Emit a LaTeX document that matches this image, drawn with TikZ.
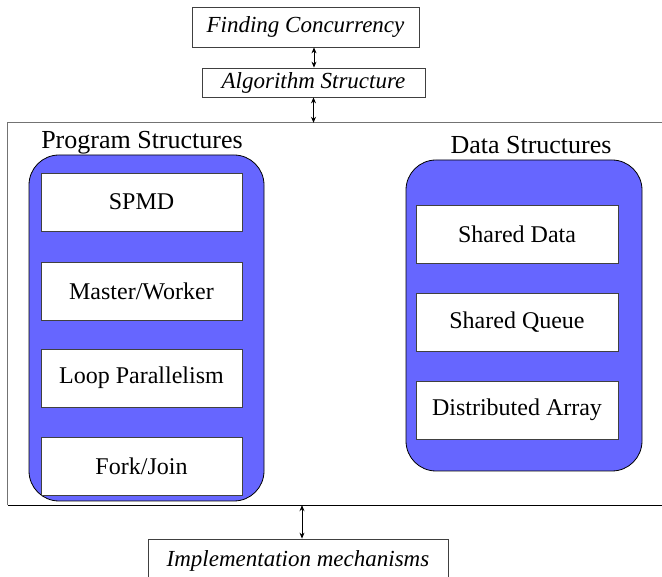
\documentclass[tikz,border=0pt]{standalone}
\usepackage{fontspec}
\setmainfont{Liberation Serif}
\usepackage{xcolor}
\usetikzlibrary{arrows.meta}

\definecolor{panelblue}{RGB}{102,102,255}

\begin{document}
\begin{tikzpicture}[x=1pt,y=-1pt,
    stage/.style={draw=black!75, fill=white, line width=0.8pt, inner sep=0pt, font=\fontsize{23}{26}\selectfont\itshape},
    panel/.style={draw=black, fill=panelblue, line width=0.8pt, rounded corners=30pt, inner sep=0pt},
    pattern/.style={draw=black!75, fill=white, line width=0.8pt, inner sep=0pt, minimum height=58pt, font=\fontsize{24}{28}\selectfont},
    heading/.style={font=\fontsize{26}{30}\selectfont, inner sep=0pt},
    link/.style={line width=0.8pt, {Stealth[length=6pt,width=5pt]}-{Stealth[length=6pt,width=5pt]}}]
        \useasboundingbox (0,0) rectangle (662,577);
        \clip (0,0) rectangle (662,577);
        % design spaces above and below
        \node[stage, minimum width=227pt, minimum height=40pt] (find) at (305.5,27) {Finding Concurrency};
        \node[stage, minimum width=223pt, minimum height=29pt] (alg) at (313.5,82.5) {Algorithm Structure};
        \node[stage, minimum width=300pt, minimum height=44pt] (impl) at (298,561) {Implementation mechanisms};
        \node[minimum width=692pt, minimum height=382pt, inner sep=0pt] (frame) at (354,314) {};
        \draw[black!55, line width=0.8pt] (frame.south west) |- (frame.north east);
        \draw[line width=1pt] (frame.south west) -- (frame.south east);
        % program structures
        \node[heading] (progtitle) at (142,143) {Program Structures};
        \node[panel, minimum width=235pt, minimum height=346pt] (prog) at (146.5,328) {};
        \node[pattern, minimum width=201pt] (spmd) at (141.5,202) {SPMD};
        \node[pattern, minimum width=201pt] (mw) at (141.5,291) {Master/Worker};
        \node[pattern, minimum width=201pt] (loop) at (141.5,378) {Loop Parallelism};
        \node[pattern, minimum width=201pt] (fork) at (141.5,466) {Fork/Join};
        % data structures
        \node[heading] (datatitle) at (531,145) {Data Structures};
        \node[panel, minimum width=236pt, minimum height=311pt] (data) at (524,315.5) {};
        \node[pattern, minimum width=202pt] (sdata) at (517,234) {Shared Data};
        \node[pattern, minimum width=202pt] (squeue) at (517,322) {Shared Queue};
        \node[pattern, minimum width=202pt] (darray) at (517,410) {Distributed Array};
        % arrows
        \draw[link] ([xshift=8.5pt]find.south) -- ([xshift=8.5pt]find.south |- alg.north);
        \draw[link] (alg.south) -- (alg.south |- frame.north);
        \draw[link] ([xshift=4pt]impl.north |- frame.south) -- ([xshift=4pt]impl.north);
    \end{tikzpicture}
\end{document}
